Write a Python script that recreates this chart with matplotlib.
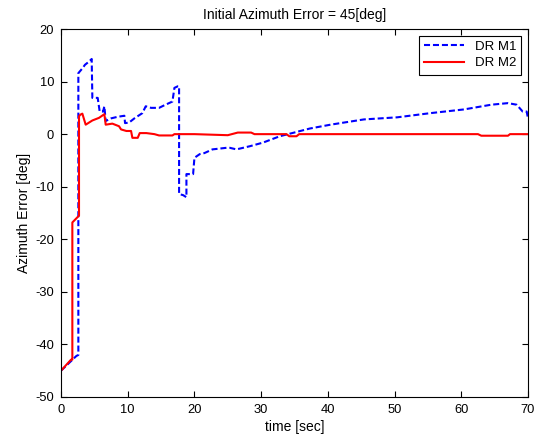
import matplotlib

matplotlib.use('Agg')
import matplotlib.pyplot as plt

# DR M1 (blue, dashed): time [sec], azimuth error [deg]
t_m1 = [0, 2.3, 2.6, 2.6, 3.2, 3.6, 4.2, 4.6, 4.7, 5.5, 5.8, 6.3, 6.5, 6.7,
        7.5, 8.5, 9.5, 9.6, 10.2, 11.0, 12.2, 12.7, 13.5, 14.7, 15.5, 16.7,
        17.0, 17.5, 17.7, 17.7, 18.3, 18.8, 18.8, 19.8, 20.0, 20.8, 21.5,
        22.7, 24.8, 25.3, 26.3, 28.3, 30.3, 32.8, 34.8, 37.3, 40.4, 45.4,
        50.4, 55.4, 60.4, 64.5, 67.0, 68.3, 69.2, 69.8, 70.0]
e_m1 = [-45, -42.2, -42, 11.6, 12.5, 13.2, 13.8, 14.3, 6.9, 6.9, 4.3, 4.3,
        5.3, 2.5, 3.0, 3.3, 3.5, 2.1, 2.2, 3.0, 4.0, 5.3, 5.0, 5.0, 5.5, 6.2,
        8.8, 9.1, 9.1, -11.4, -11.6, -12.0, -7.6, -7.6, -4.5, -3.8, -3.6,
        -2.9, -2.6, -2.6, -2.9, -2.3, -1.6, -0.4, 0.25, 1.07, 1.8, 2.8,
        3.2, 4.0, 4.7, 5.6, 5.9, 5.6, 4.3, 4.3, 3.0]

# DR M2 (red, solid)
t_m2 = [0, 1.5, 1.7, 1.7, 2.7, 2.7, 2.9, 3.2, 3.7, 4.7, 5.7, 6.5, 6.7, 7.7,
        8.7, 9.0, 9.8, 10.5, 10.7, 11.5, 11.8, 12.8, 14.0, 14.7, 16.7, 17.0,
        20.0, 25.0, 26.5, 28.5, 29.0, 33.8, 34.2, 35.3, 35.7, 62.5, 63.0,
        67.0, 67.3, 70.0]
e_m2 = [-45, -42.9, -42.9, -16.8, -15.5, 3.4, 3.7, 3.9, 1.8, 2.6, 3.1, 3.8,
        1.8, 2.0, 1.5, 0.9, 0.6, 0.6, -0.7, -0.7, 0.2, 0.2, 0, -0.25, -0.25,
        0, 0, -0.2, 0.3, 0.3, 0, 0, -0.4, -0.4, 0, 0, -0.3, -0.3, 0, 0]

plt.rcParams['font.family'] = ['Liberation Sans', 'DejaVu Sans']
plt.rcParams['font.size'] = 9
plt.rcParams['axes.unicode_minus'] = False

fig = plt.figure(figsize=(5.39, 4.37), dpi=100)
ax = fig.add_axes([61 / 539, 1 - 397 / 437, 467 / 539, 368 / 437])
ax.plot(t_m1, e_m1, color='#0000ff', lw=1.5, ls='--', dashes=(2.9, 1.4),
        label='DR M1')
ax.plot(t_m2, e_m2, color='#ff0000', lw=1.5, label='DR M2')

ax.set_xlim(0, 70)
ax.set_ylim(-50, 20)
ax.set_xticks(range(0, 71, 10))
ax.set_yticks(range(-50, 21, 10))
ax.tick_params(direction='in', top=True, right=True, length=4, pad=5,
               labelsize=9.3)
ax.set_xlabel('time [sec]', labelpad=3, fontsize=10)
ax.set_ylabel('Azimuth Error [deg]', labelpad=3, fontsize=10)
ax.set_title('Initial Azimuth Error = 45[deg]', pad=7, fontsize=10)
leg = ax.legend(loc='upper right', fancybox=False, edgecolor='black',
                framealpha=1, handlelength=3.0, borderaxespad=0.5,
                fontsize=9.5, labelspacing=0.3, borderpad=0.4)
leg.get_frame().set_linewidth(0.8)

fig.savefig('out.png', dpi=100)
